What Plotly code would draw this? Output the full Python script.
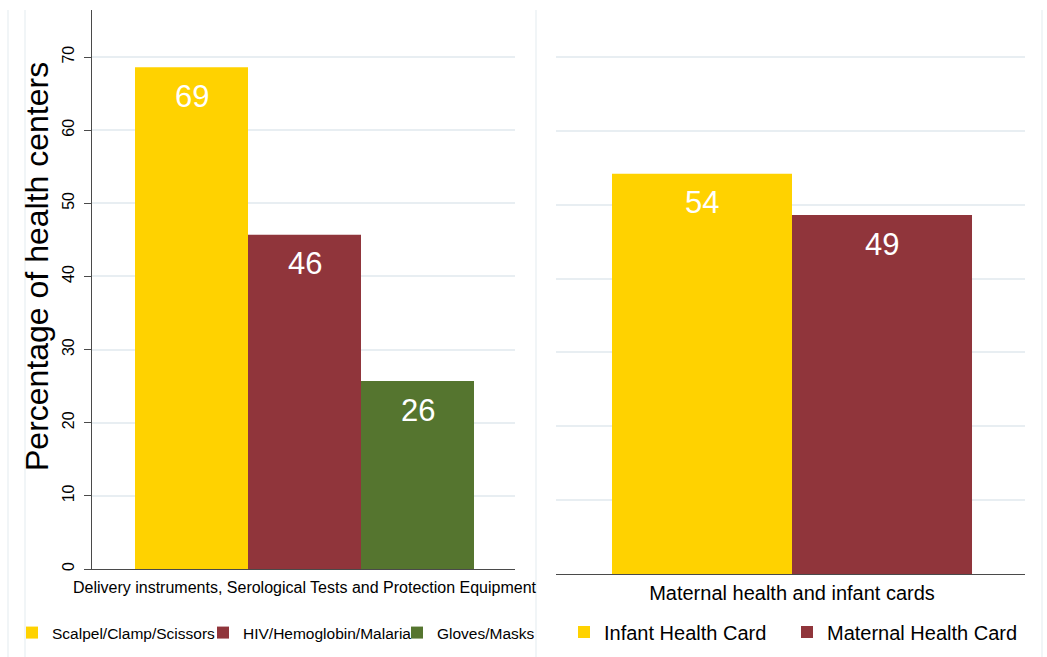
import plotly.graph_objects as go

# ---- data ----
left_group = "Delivery instruments, Serological Tests and Protection Equipment"
left_names = ["Scalpel/Clamp/Scissors", "HIV/Hemoglobin/Malaria", "Gloves/Masks"]
left_values = [68.6, 45.7, 25.7]

right_group = "Maternal health and infant cards"
right_names = ["Infant Health Card", "Maternal Health Card"]
right_values = [54.2, 48.6]

y_ticks = [0, 10, 20, 30, 40, 50, 60, 70]
y_title = "Percentage of health centers"

# ---- style ----
left_colors = ["#FFD200", "#90353B", "#55752F"]
right_colors = ["#FFD200", "#90353B"]
FONT = "Liberation Sans, Arial, sans-serif"
W, H = 1047, 657
GRID = "#e8eef2"
AXIS = "#4a4a4a"

def px_x(p):
    return p / W

def px_y(p):
    return (H - p) / H

fig = go.Figure()

left_legend_w = [146, 149, 0]
right_legend_w = [178, 0]

# left panel bars
for i, (n, v, c) in enumerate(zip(left_names, left_values, left_colors)):
    fig.add_trace(go.Bar(
        x=[i], y=[v], name=n, width=1, marker=dict(color=c, line=dict(width=0)),
        xaxis="x", yaxis="y", legend="legend",
        legendwidth=left_legend_w[i] if left_legend_w[i] else None,
        hoverinfo="skip",
    ))
    fig.add_annotation(x=i, y=v, xref="x", yref="y", text=f"{v:.0f}",
                       showarrow=False, yanchor="middle", yshift=-29,
                       font=dict(family=FONT, size=31, color="white"))

# right panel bars
for j, (n, v, c) in enumerate(zip(right_names, right_values, right_colors)):
    fig.add_trace(go.Bar(
        x=[j], y=[v], name=n, width=1, marker=dict(color=c, line=dict(width=0)),
        xaxis="x2", yaxis="y2", legend="legend2",
        legendwidth=right_legend_w[j] if right_legend_w[j] else None,
        hoverinfo="skip",
    ))
    fig.add_annotation(x=j, y=v, xref="x2", yref="y2", text=f"{v:.0f}",
                       showarrow=False, yanchor="middle", yshift=-29,
                       font=dict(family=FONT, size=31, color="white"))

n_l = len(left_values)
n_r = len(right_values)

fig.update_layout(
    width=W, height=H, autosize=False,
    margin=dict(l=0, r=0, t=0, b=0, autoexpand=False),
    paper_bgcolor="white", plot_bgcolor="white",
    barmode="overlay",
    font=dict(family=FONT, color="black"),
    xaxis=dict(
        domain=[px_x(92), px_x(515)],
        range=[-0.8805, (n_l - 1) + 0.8628],
        tickvals=[(n_l - 1) / 2], ticktext=[left_group],
        ticks="", tickfont=dict(size=16), ticklabelstandoff=4,
        showline=True, linecolor=AXIS, linewidth=1.3, automargin=False,
        showgrid=False, zeroline=False, fixedrange=True,
    ),
    yaxis=dict(
        domain=[px_y(569), px_y(10)],
        range=[0, 76.43],
        tickvals=y_ticks, tickangle=-90, tickfont=dict(size=16),
        ticks="outside", ticklen=7, tickcolor=AXIS, tickwidth=1.3,
        ticklabelstandoff=3, automargin=False,
        showline=True, linecolor=AXIS, linewidth=1.3,
        showgrid=True, gridcolor=GRID, gridwidth=1.5, zeroline=False,
        fixedrange=True,
    ),
    xaxis2=dict(
        domain=[px_x(556), px_x(1025)],
        range=[-0.8111, (n_r - 1) + 0.7944],
        tickvals=[(n_r - 1) / 2], ticktext=[right_group],
        ticks="", tickfont=dict(size=20), ticklabelstandoff=1,
        showline=True, linecolor=AXIS, linewidth=1.3, automargin=False,
        showgrid=False, zeroline=False, fixedrange=True, anchor="y2",
    ),
    yaxis2=dict(
        domain=[px_y(574), px_y(10)],
        range=[0, 76.36], anchor="x2", automargin=False,
        tickvals=y_ticks, showticklabels=False, ticks="",
        showline=False, showgrid=True, gridcolor=GRID, gridwidth=1.5,
        zeroline=False, fixedrange=True,
    ),
    legend=dict(
        x=px_x(52 - 40), xanchor="left", y=px_y(633), yanchor="middle",
        orientation="h", bgcolor="rgba(0,0,0,0)", borderwidth=0,
        font=dict(family=FONT, size=15.5, color="black"),
        itemclick=False, itemdoubleclick=False,
    ),
    legend2=dict(
        x=px_x(604 - 40), xanchor="left", y=px_y(632), yanchor="middle",
        orientation="h", bgcolor="rgba(0,0,0,0)", borderwidth=0,
        font=dict(family=FONT, size=20, color="black"),
        itemclick=False, itemdoubleclick=False,
    ),
)

# y-axis title placed like the reference (slightly above the axis centre)
fig.add_annotation(text=y_title, xref="paper", yref="paper",
                   x=px_x(37), y=px_y(267), textangle=-90,
                   xanchor="center", yanchor="middle", showarrow=False,
                   font=dict(family=FONT, size=32, color="black"))

# faint panel borders
for xp in [8, 25, 536, 1042]:
    fig.add_shape(type="line", xref="paper", yref="paper",
                  x0=px_x(xp), x1=px_x(xp), y0=0, y1=px_y(10),
                  line=dict(color="#edf2f5", width=1.5), layer="below")

fig.write_html(
    "out.html",
    post_script="document.body.style.margin='0';document.documentElement.style.overflow='hidden';",
)
